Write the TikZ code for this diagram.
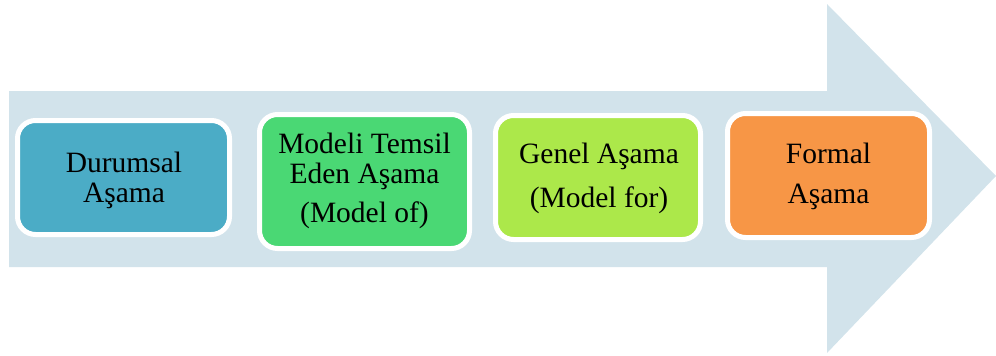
\documentclass[tikz,border=0pt]{standalone}
\usepackage{fontspec}
\setmainfont{Liberation Serif}
\definecolor{arrowbg}{HTML}{D2E3EB}
\definecolor{stageA}{HTML}{4BACC6}
\definecolor{stageB}{HTML}{4AD874}
\definecolor{stageC}{HTML}{ACE84A}
\definecolor{stageD}{HTML}{F79646}
\tikzset{
  stage/.style={draw=white, line width=5pt, rounded corners=18pt, inner sep=0pt},
  stagetext/.style={anchor=base, inner sep=0pt, font=\fontsize{29.5}{30}\selectfont, text=black}
}
\begin{document}
\begin{tikzpicture}[x=1pt, y=-1pt]
  \useasboundingbox (0,0) rectangle (996,356);
  % background block arrow
  \fill[arrowbg] (9,91) -- (827,91) -- (827,4) -- (996,176) -- (827,353)
    -- (827,267) -- (9,267) -- cycle;
  % stage boxes
  \node[stage, fill=stageA, minimum width=212pt, minimum height=114pt] (s1) at (123.5,177.5) {};
  \node[stage, fill=stageB, minimum width=210pt, minimum height=134pt] (s2) at (364.5,181.5) {};
  \node[stage, fill=stageC, minimum width=205pt, minimum height=124pt] (s3) at (598,177.5) {};
  \node[stage, fill=stageD, minimum width=202pt, minimum height=124pt] (s4) at (828.5,175.5) {};
  % labels
  \node[stagetext] (s1a) at (124,172) {Durumsal};
  \node[stagetext] (s1b) at (124,202) {Aşama};
  \node[stagetext] (s2a) at (364.5,153) {Modeli Temsil};
  \node[stagetext] (s2b) at (364.5,183) {Eden Aşama};
  \node[stagetext] (s2c) at (364.5,222) {(Model of)};
  \node[stagetext] (s3a) at (599,163) {Genel Aşama};
  \node[stagetext] (s3b) at (599,207) {(Model for)};
  \node[stagetext] (s4a) at (828.5,163) {Formal};
  \node[stagetext] (s4b) at (828.5,203) {Aşama};
\end{tikzpicture}
\end{document}
